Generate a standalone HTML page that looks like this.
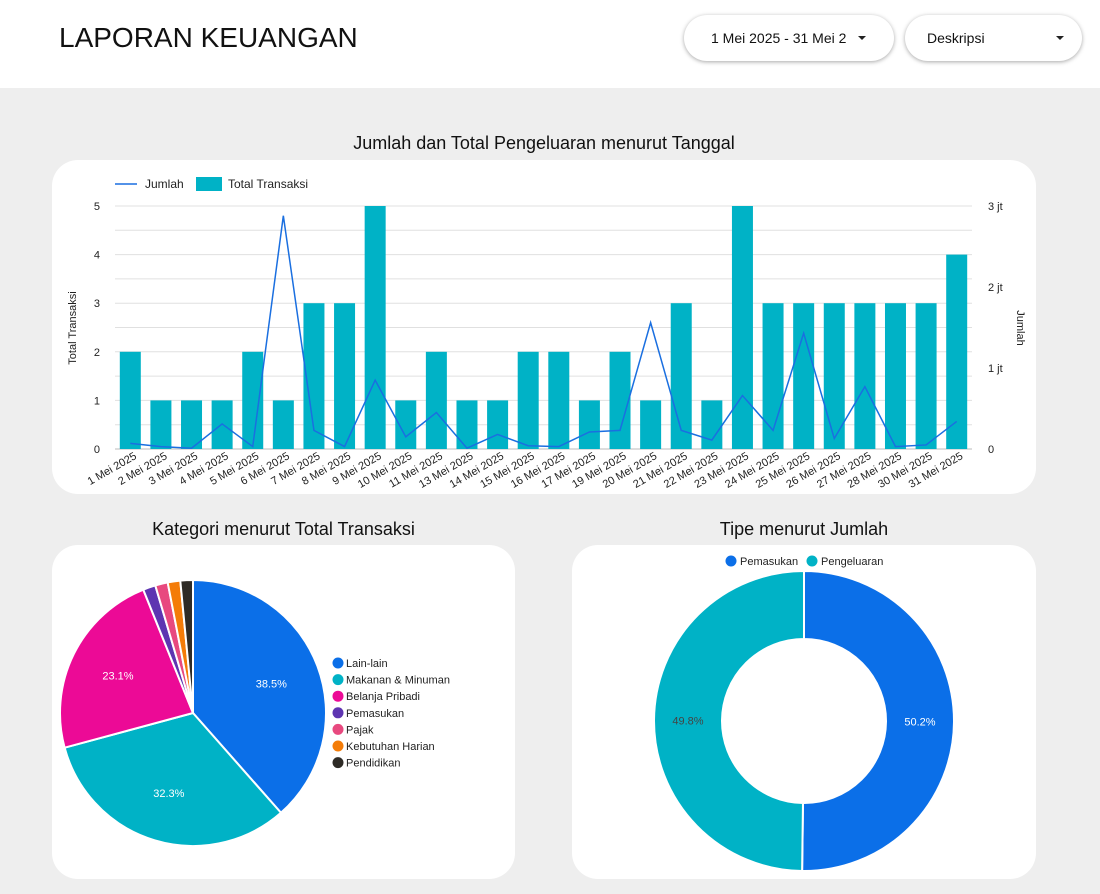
<!DOCTYPE html>
<html><head><meta charset="utf-8">
<style>
body{margin:0;width:1100px;height:894px;background:#eeeeee;font-family:"Liberation Sans",Arial,sans-serif;overflow:hidden;position:relative}
.hdr{position:absolute;left:0;top:0;width:1100px;height:88px;background:#fff}
.title{position:absolute;left:59px;top:22px;font-size:28px;color:#111}
.dd{position:absolute;top:15px;height:46px;border-radius:23px;background:#fff;box-shadow:0 1px 4px rgba(0,0,0,.35);font-size:14px;color:#111}
.dd span{position:absolute;top:15px}
.dd i{position:absolute;top:21px;width:0;height:0;border-left:4px solid transparent;border-right:4px solid transparent;border-top:4px solid #222}
.card{position:absolute;background:#fff;border-radius:26px}
.ct{position:absolute;font-size:18px;color:#111;text-align:center}
svg text{font-family:"Liberation Sans",Arial,sans-serif}
</style></head><body>
<div class="hdr">
<div class="title">LAPORAN KEUANGAN</div>
<div class="dd" style="left:684px;width:210px"><span style="left:27px">1 Mei 2025 - 31 Mei 2</span><i style="left:174px"></i></div>
<div class="dd" style="left:905px;width:177px"><span style="left:22px">Deskripsi</span><i style="left:151px"></i></div>
</div>
<div class="ct" style="left:52px;width:984px;top:133px">Jumlah dan Total Pengeluaran menurut Tanggal</div>
<div class="card" style="left:52px;top:160px;width:984px;height:334px"></div>
<div class="ct" style="left:52px;width:463px;top:519px">Kategori menurut Total Transaksi</div>
<div class="card" style="left:52px;top:545px;width:463px;height:334px"></div>
<div class="ct" style="left:572px;width:464px;top:519px">Tipe menurut Jumlah</div>
<div class="card" style="left:572px;top:545px;width:464px;height:334px"></div>
<svg id="s" width="1100" height="894" style="position:absolute;left:0;top:0"></svg>
<script>
const dates=["1 Mei 2025","2 Mei 2025","3 Mei 2025","4 Mei 2025","5 Mei 2025","6 Mei 2025","7 Mei 2025","8 Mei 2025","9 Mei 2025","10 Mei 2025","11 Mei 2025","13 Mei 2025","14 Mei 2025","15 Mei 2025","16 Mei 2025","17 Mei 2025","19 Mei 2025","20 Mei 2025","21 Mei 2025","22 Mei 2025","23 Mei 2025","24 Mei 2025","25 Mei 2025","26 Mei 2025","27 Mei 2025","28 Mei 2025","30 Mei 2025","31 Mei 2025"];
const totalTransaksi=[2,1,1,1,2,1,3,3,5,1,2,1,1,2,2,1,2,1,3,1,5,3,3,3,3,3,3,4];
const jumlahJt=[0.07,0.03,0.01,0.31,0.03,2.88,0.23,0.03,0.85,0.15,0.45,0.01,0.18,0.04,0.03,0.21,0.23,1.56,0.23,0.11,0.66,0.23,1.43,0.13,0.77,0.03,0.05,0.34];
const leftTicks=[0,1,2,3,4,5];
const rightTicks=["0","1 jt","2 jt","3 jt"];
const catNames=["Lain-lain","Makanan & Minuman","Belanja Pribadi","Pemasukan","Pajak","Kebutuhan Harian","Pendidikan"];
const catPct=[38.5,32.3,23.1,1.525,1.525,1.525,1.525];
const catColors=["#0b6fe8","#00b2c6","#ec0a96","#5e35b1","#e8497f","#f47c08","#2e2b26"];
const typeNames=["Pemasukan","Pengeluaran"];
const typePct=[50.2,49.8];
const typeColors=["#0b6fe8","#00b2c6"];

const S=document.getElementById('s'),NS="http://www.w3.org/2000/svg";
function mk(t,a,txt){const e=document.createElementNS(NS,t);for(const k in a)e.setAttribute(k,a[k]);if(txt!=null)e.textContent=txt;S.appendChild(e);return e;}
const X0=115,X1=972,Y0=449,Y5=206;
const step=(X1-X0)/dates.length;
const xC=i=>X0+step*(i+0.5);
const yL=v=>Y0-(Y0-Y5)*v/5;
const yR=v=>Y0-(Y0-Y5)*v/3;
for(let k=0;k<=10;k++){const y=Y0-(Y0-Y5)*k/10;
 const g=mk('line',{x1:X0,x2:X1,y1:y,y2:y,stroke:k==0?'#bbb':'#e0e0e0','stroke-width':1});
 
 }
leftTicks.forEach(v=>{const t=mk('text',{x:100,y:yL(v)+4,'font-size':11,fill:'#222','text-anchor':'end'},v);
 
 });
rightTicks.forEach((v,i)=>{const t=mk('text',{x:988,y:yR(i)+4,'font-size':11,fill:'#222'},v);
 
 });
let t=mk('text',{x:76,y:328,'font-size':11,fill:'#222','text-anchor':'middle',transform:'rotate(-90 76 328)'},'Total Transaksi');

t=mk('text',{x:1017,y:328,'font-size':11,fill:'#222','text-anchor':'middle',transform:'rotate(90 1017 328)'},'Jumlah');

const bw=21;
totalTransaksi.forEach((v,i)=>{const r=mk('rect',{x:xC(i)-bw/2,y:yL(v),width:bw,height:Y0-yL(v),fill:'#00b2c6'});
 
 });
const pl=mk('polyline',{points:jumlahJt.map((v,i)=>xC(i)+','+yR(v)).join(' '),fill:'none',stroke:'#1a6fe0','stroke-width':1.5});

dates.forEach((d,i)=>{const x=xC(i)+7,y=458;
 const e=mk('text',{x:x,y:y,'font-size':11,fill:'#222','text-anchor':'end',transform:`rotate(-30 ${x} ${y})`},d);
 
 });
mk('line',{x1:115,x2:137,y1:184,y2:184,stroke:'#1a6fe0','stroke-width':1.5});
t=mk('text',{x:145,y:188,'font-size':12,fill:'#222'},'Jumlah');
mk('rect',{x:196,y:177,width:26,height:14,fill:'#00b2c6'});
t=mk('text',{x:228,y:188,'font-size':12,fill:'#222'},'Total Transaksi');

function slices(cx,cy,R,ri,pcts,cols,names,labelIdx,labCols,pre){
 let a=0;const tot=pcts.reduce((s,v)=>s+v,0);
 pcts.forEach((p,i)=>{const a0=a,a1=a+p/tot*2*Math.PI;a=a1;
  const P=(r,an)=>[cx+r*Math.sin(an),cy-r*Math.cos(an)];
  const lg=(a1-a0)>Math.PI?1:0;
  const [x0,y0]=P(R,a0),[x1,y1]=P(R,a1);
  let d;
  if(ri>0){const [u0,v0]=P(ri,a0),[u1,v1]=P(ri,a1);
   d=`M${x0},${y0}A${R},${R} 0 ${lg} 1 ${x1},${y1}L${u1},${v1}A${ri},${ri} 0 ${lg} 0 ${u0},${v0}Z`;}
  else d=`M${cx},${cy}L${x0},${y0}A${R},${R} 0 ${lg} 1 ${x1},${y1}Z`;
  const e=mk('path',{d:d,fill:cols[i],stroke:'#fff','stroke-width':2});
  
  
  if(labelIdx.includes(i)){const am=(a0+a1)/2,lr=ri>0?(R+ri)/2:R*0.63;const [lx,ly]=P(lr,am);
   const l=mk('text',{x:lx,y:ly+4,'font-size':11,fill:labCols[i],'text-anchor':'middle'},p.toFixed(1)+'%');
   
   }
 });
}
slices(193,713,133,0,catPct,catColors,catNames,[0,1,2],['#fff','#fff','#fff'],'pie');
catNames.forEach((n,i)=>{const y=663+i*16.6;
 mk('circle',{cx:338,cy:y,r:5.5,fill:catColors[i]});
 const e=mk('text',{x:346,y:y+4,'font-size':11,fill:'#222'},n);
 
 });
slices(804,721,150,82,typePct,typeColors,typeNames,[0,1],['#fff','#444'],'donut');
[[731,'Pemasukan',0],[812,'Pengeluaran',1]].forEach(([x,n,i])=>{
 mk('circle',{cx:x,cy:561,r:5.5,fill:typeColors[i]});
 const e=mk('text',{x:x+9,y:565,'font-size':11,fill:'#222'},n);
 
 });
</script>
</body></html>
